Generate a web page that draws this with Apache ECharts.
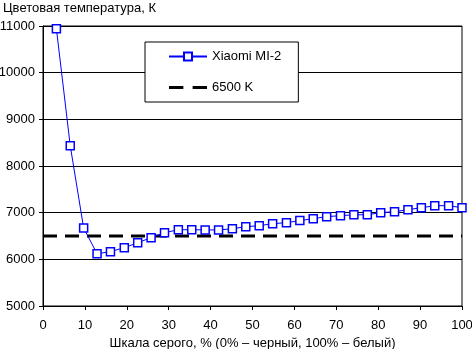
<!DOCTYPE html>
<html>
<head>
<meta charset="utf-8">
<script src="https://cdn.jsdelivr.net/npm/echarts@6/dist/echarts.min.js"></script>
<style>
  html, body { margin: 0; padding: 0; background: #fff; }
  #chart { width: 472px; height: 349px; }
</style>
</head>
<body>
<div id="chart"></div>
<script>
// Gray scale level, % (31 steps)
const grayLevels = [3.2, 6.5, 9.7, 12.9, 16.1, 19.4, 22.6, 25.8, 29.0, 32.3, 35.5,
  38.7, 41.9, 45.2, 48.4, 51.6, 54.8, 58.1, 61.3, 64.5, 67.7, 71.0, 74.2, 77.4,
  80.6, 83.9, 87.1, 90.3, 93.5, 96.8, 100];
// Measured color temperature, K
const colorTemp = [10940, 8435, 6670, 6120, 6165, 6250, 6355, 6465, 6570, 6635, 6635,
  6630, 6630, 6655, 6700, 6720, 6765, 6785, 6830, 6870, 6915, 6935, 6955, 6955,
  7000, 7020, 7065, 7105, 7150, 7150, 7105];
// Reference white point
const referenceLine = [[0, 6500], [100, 6500]];
const xTicks = { min: 0, max: 100, step: 10 };
const yTicks = { min: 5000, max: 11000, step: 1000 };

const font = '"Liberation Sans", Arial, sans-serif';
const chart = echarts.init(document.getElementById('chart'), null, { renderer: 'canvas' });

chart.setOption({
  animation: false,
  backgroundColor: '#fff',
  title: {
    text: 'Цветовая температура, К',
    left: 3, top: 2, padding: 0,
    textStyle: { fontFamily: font, fontSize: 13, fontWeight: 'normal', color: '#000' }
  },
  legend: {
    left: 145, top: 42,
    orient: 'vertical',
    backgroundColor: '#fff',
    borderColor: '#000', borderWidth: 1, borderRadius: 0,
    padding: [8, 17, 8, 23],
    itemWidth: 38, itemHeight: 10, itemGap: 18,
    textStyle: { fontFamily: font, fontSize: 13, color: '#000' },
    data: [
      { name: 'Xiaomi MI-2' },
      { name: '6500 K', icon: 'path://M0,0h14v3h-14z M23,0h14v3h-14z' }
    ]
  },
  grid: {
    left: 43, right: 10, top: 26, bottom: 43,
    outerBoundsMode: 'none', containLabel: false,
    show: true, borderColor: '#000', borderWidth: 1
  },
  xAxis: {
    type: 'value',
    min: xTicks.min, max: xTicks.max, interval: xTicks.step,
    name: 'Шкала серого, % (0% – черный, 100% – белый)',
    nameLocation: 'middle', nameGap: 30,
    nameTextStyle: { fontFamily: font, fontSize: 13, color: '#000' },
    axisLine: { lineStyle: { color: '#000', width: 1 } },
    axisTick: { length: 4, lineStyle: { color: '#000' } },
    axisLabel: { fontFamily: font, fontSize: 13, color: '#000', margin: 13 },
    splitLine: { show: false }
  },
  yAxis: {
    type: 'value',
    min: yTicks.min, max: yTicks.max, interval: yTicks.step,
    axisLine: { show: true, lineStyle: { color: '#000', width: 1 } },
    axisTick: { show: true, length: 4, lineStyle: { color: '#000' } },
    axisLabel: {
      fontFamily: font, fontSize: 13, color: '#000', margin: 8,
      formatter: v => String(v)
    },
    splitLine: { show: true, lineStyle: { color: '#000', width: 1 } }
  },
  series: [
    {
      name: 'Xiaomi MI-2',
      type: 'line',
      data: grayLevels.map((x, i) => [x, colorTemp[i]]),
      symbol: 'rect', symbolSize: 8,
      lineStyle: { color: '#0000ff', width: 1 },
      itemStyle: { color: '#fff', borderColor: '#0000ff', borderWidth: 1.5 },
      z: 3
    },
    {
      name: '6500 K',
      type: 'line',
      data: referenceLine,
      symbol: 'none',
      lineStyle: { color: '#000', width: 3, type: [14, 8] },
      itemStyle: { color: '#000' },
      z: 2
    }
  ]
});
</script>
</body>
</html>
